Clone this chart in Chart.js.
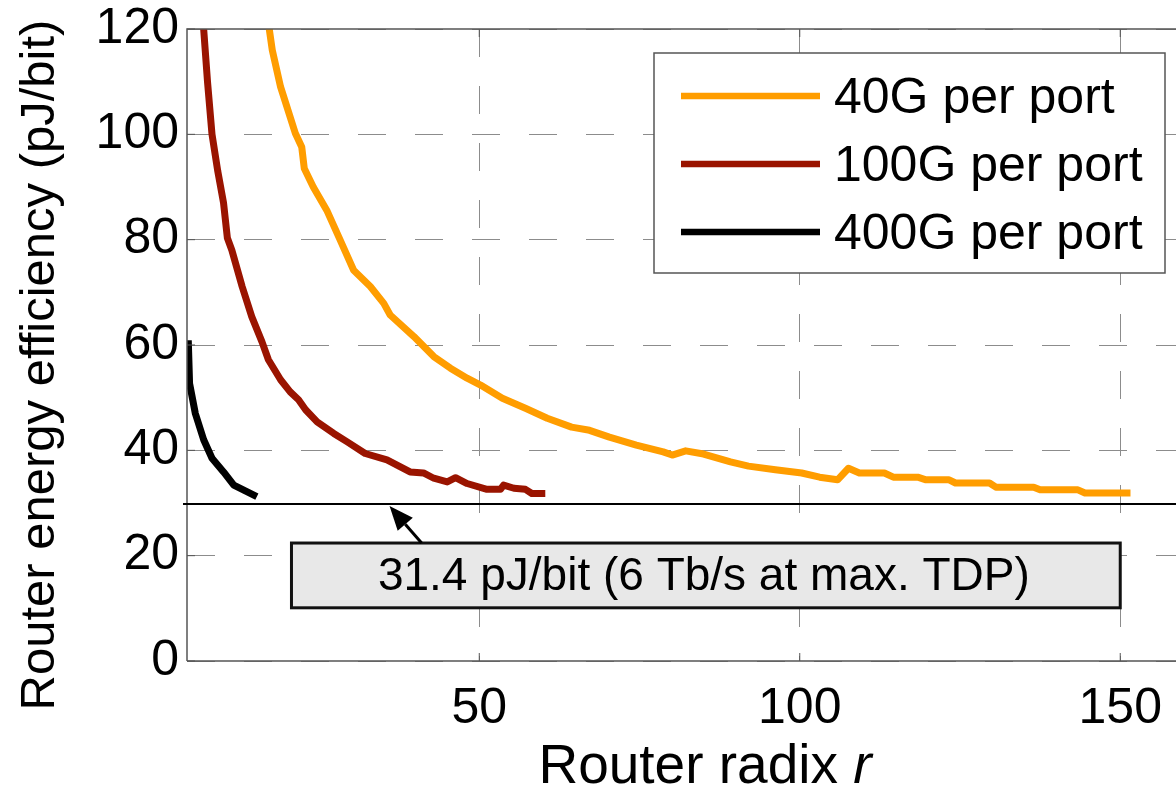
<!DOCTYPE html>
<html>
<head>
<meta charset="utf-8">
<script src="https://cdn.jsdelivr.net/npm/chart.js@4.4.1/dist/chart.umd.min.js"></script>
<style>
  html, body { margin: 0; padding: 0; background: #fff; }
  #wrap { width: 1176px; height: 790px; position: relative; }
</style>
</head>
<body>
<div id="wrap"><canvas id="chart" width="1176" height="790"></canvas></div>
<script>
// series: router radix r -> pJ/bit
const seriesLabels = ['40G per port', '100G per port', '400G per port'];

const r40 = [17.0, 17.7, 19.0, 21.3, 22.3, 22.7, 24.1, 26.2, 28.2, 30.4, 33.0, 35.1, 36.1, 39.8, 42.9, 45.5, 48.1, 50.2, 53.6, 57.2,
  60.6, 64.4, 67.2, 70.3, 74.5, 78.7, 80.1, 82.2, 85.0, 89.2, 92.0, 96.2, 100.3, 103.1, 105.9, 107.6, 109.3, 113.2, 114.6, 118.4,
  119.7, 123.3, 124.3, 129.6, 130.6, 136.5, 137.5, 143.4, 144.5, 151.6];
const e40 = [122, 116, 109, 100.2, 97.6, 93.5, 90, 85.6, 80.2, 74.2, 71.1, 67.9, 65.7, 61.6, 57.8, 55.6, 53.7, 52.4, 49.9, 48.0,
  46.1, 44.4, 43.8, 42.5, 41.0, 39.7, 39.1, 39.9, 39.3, 37.8, 37.0, 36.3, 35.7, 34.9, 34.4, 36.6, 35.7, 35.7, 34.9, 34.9,
  34.4, 34.4, 33.8, 33.8, 33.0, 33.0, 32.5, 32.5, 31.9, 31.9];

const r100 = [6.8, 7.0, 7.6, 8.3, 9.2, 10.1, 10.7, 11.4, 13.0, 14.5, 16.1, 17.1, 19.0, 20.5, 21.8, 22.9, 24.7, 27.3, 29.4, 32.2,
  35.6, 39.2, 41.3, 42.9, 45.0, 46.3, 48.1, 51.2, 53.3, 53.8, 55.4, 57.2, 58.2, 60.3];
const e100 = [123, 120, 110, 100, 93, 87, 80.3, 78, 71.1, 65.4, 60.6, 57.2, 53.4, 51.1, 49.6, 47.7, 45.4, 43.2, 41.6, 39.4,
  38.2, 35.9, 35.7, 34.7, 34.0, 34.8, 33.7, 32.6, 32.6, 33.4, 32.8, 32.6, 31.8, 31.8];

const r400 = [4.6, 4.8, 5.7, 7.0, 8.3, 10.1, 11.7, 15.3];
const e400 = [60.9, 52.7, 47.0, 42.0, 38.5, 35.9, 33.4, 31.2];

const xTicks = [50, 100, 150];
const yTicks = [0, 20, 40, 60, 80, 100, 120];

const refValue = 29.8;
const refLabel = '31.4 pJ/bit (6 Tb/s at max. TDP)';
const xTitle = 'Router radix ';
const xTitleVar = 'r';
const yTitle = 'Router energy efficiency (pJ/bit)';

const colors = ['#ff9d00', '#9a1400', '#000000'];
const FONT = '"Liberation Sans", Arial, Helvetica, sans-serif';

const pts = (xs, ys) => xs.map((x, i) => ({ x: x, y: ys[i] }));

// extra drawing: frame, inner ticks, reference line, callout, legend, axis titles
const extras = {
  id: 'extras',
  afterDatasetsDraw(chart) {
    const ctx = chart.ctx;
    const a = chart.chartArea;
    const xs = chart.scales.x, ys = chart.scales.y;
    ctx.save();

    // frame
    ctx.strokeStyle = '#555';
    ctx.lineWidth = 1.5;
    ctx.beginPath();
    ctx.moveTo(a.left, a.bottom); ctx.lineTo(a.left, a.top); ctx.lineTo(a.right + 2, a.top);
    ctx.moveTo(a.left, a.bottom); ctx.lineTo(a.right + 2, a.bottom);
    ctx.stroke();

    // inner tick marks
    ctx.lineWidth = 1;
    ctx.beginPath();
    xTicks.forEach(v => {
      const px = xs.getPixelForValue(v);
      ctx.moveTo(px, a.bottom); ctx.lineTo(px, a.bottom - 8);
      ctx.moveTo(px, a.top); ctx.lineTo(px, a.top + 8);
    });
    yTicks.forEach(v => {
      const py = ys.getPixelForValue(v);
      ctx.moveTo(a.left, py); ctx.lineTo(a.left + 8, py);
    });
    ctx.stroke();

    // reference line
    const ry = ys.getPixelForValue(refValue);
    ctx.strokeStyle = '#000';
    ctx.lineWidth = 2;
    ctx.beginPath();
    ctx.moveTo(a.left - 4, ry); ctx.lineTo(a.right + 2, ry);
    ctx.stroke();

    // callout box
    const bx1 = xs.getPixelForValue(20.7), bx2 = xs.getPixelForValue(150);
    const by1 = ys.getPixelForValue(22.4), by2 = ys.getPixelForValue(10.1);
    ctx.fillStyle = '#e8e8e8';
    ctx.fillRect(bx1, by1, bx2 - bx1, by2 - by1);
    ctx.strokeStyle = '#111';
    ctx.lineWidth = 3;
    ctx.strokeRect(bx1, by1, bx2 - bx1, by2 - by1);
    ctx.fillStyle = '#000';
    ctx.font = '46px ' + FONT;
    ctx.textAlign = 'center';
    ctx.textBaseline = 'middle';
    ctx.fillText(refLabel, (bx1 + bx2) / 2 - 2, (by1 + by2) / 2 + 2);

    // arrow from box to line
    const tx = xs.getPixelForValue(41.0), ty = by1;
    const hx = xs.getPixelForValue(36.0), hy = ry + 2;
    const ang = Math.atan2(hy - ty, hx - tx);
    const hl = 24, hw = 10;
    const bxh = hx - hl * Math.cos(ang), byh = hy - hl * Math.sin(ang);
    ctx.strokeStyle = '#000';
    ctx.lineWidth = 3;
    ctx.beginPath(); ctx.moveTo(tx, ty); ctx.lineTo(bxh, byh); ctx.stroke();
    ctx.beginPath();
    ctx.moveTo(hx, hy);
    ctx.lineTo(bxh + hw * Math.sin(ang), byh - hw * Math.cos(ang));
    ctx.lineTo(bxh - hw * Math.sin(ang), byh + hw * Math.cos(ang));
    ctx.closePath();
    ctx.fill();

    // legend
    const lx = 654, ly = 53, lw = 511, lh = 220;
    ctx.fillStyle = '#fff';
    ctx.fillRect(lx, ly, lw, lh);
    ctx.strokeStyle = '#555';
    ctx.lineWidth = 1.5;
    ctx.strokeRect(lx, ly, lw, lh);
    ctx.font = '50px ' + FONT;
    ctx.textAlign = 'left';
    ctx.textBaseline = 'middle';
    chart.data.datasets.forEach((ds, i) => {
      const yy = 96 + i * 68;
      ctx.strokeStyle = ds.borderColor;
      ctx.lineWidth = 6.5;
      ctx.beginPath(); ctx.moveTo(681, yy); ctx.lineTo(820, yy); ctx.stroke();
      ctx.fillStyle = '#000';
      ctx.fillText(ds.label, 834, yy + 3);
    });

    // x axis title with italic r
    ctx.fillStyle = '#000';
    ctx.textBaseline = 'middle';
    ctx.textAlign = 'left';
    ctx.font = '55px ' + FONT;
    const w1 = ctx.measureText(xTitle).width;
    ctx.font = 'italic 55px ' + FONT;
    const w2 = ctx.measureText(xTitleVar).width;
    const sx = 705 - (w1 + w2) / 2;
    ctx.font = '55px ' + FONT;
    ctx.fillText(xTitle, sx, 768);
    ctx.font = 'italic 55px ' + FONT;
    ctx.fillText(xTitleVar, sx + w1, 768);

    // y axis title
    ctx.save();
    ctx.translate(40, 365);
    ctx.rotate(-Math.PI / 2);
    ctx.font = '49px ' + FONT;
    ctx.textAlign = 'center';
    ctx.fillText(yTitle, 0, 0);
    ctx.restore();

    ctx.restore();
  }
};

new Chart(document.getElementById('chart'), {
  type: 'line',
  data: {
    datasets: [
      { label: seriesLabels[0], data: pts(r40, e40), borderColor: colors[0] },
      { label: seriesLabels[1], data: pts(r100, e100), borderColor: colors[1] },
      { label: seriesLabels[2], data: pts(r400, e400), borderColor: colors[2] }
    ]
  },
  options: {
    responsive: false,
    animation: false,
    layout: { padding: { top: 29, left: 0, right: 0, bottom: 0 } },
    elements: {
      line: { borderWidth: 7, tension: 0, borderJoinStyle: 'round', borderCapStyle: 'butt', fill: false },
      point: { radius: 0 }
    },
    plugins: {
      legend: { display: false },
      tooltip: { enabled: false }
    },
    scales: {
      x: {
        type: 'linear',
        min: 4.4,
        max: 158.7,
        afterFit: s => { s.height = 129; s.paddingLeft = 0; s.paddingRight = 0; },
        afterBuildTicks: s => { s.ticks = xTicks.map(v => ({ value: v })); },
        ticks: { color: '#000', font: { family: FONT, size: 50 }, padding: 18, maxRotation: 0 },
        grid: { color: '#8c8c8c', lineWidth: 1, drawTicks: false },
        border: { display: false, dash: [28, 29] }
      },
      y: {
        type: 'linear',
        min: 0,
        max: 120,
        afterFit: s => { s.width = 187; s.paddingTop = 0; s.paddingBottom = 0; },
        afterBuildTicks: s => { s.ticks = yTicks.map(v => ({ value: v })); },
        ticks: { color: '#000', font: { family: FONT, size: 50 }, padding: 8 },
        grid: { color: '#8c8c8c', lineWidth: 1, drawTicks: false },
        border: { display: false, dash: [28, 29] }
      }
    }
  },
  plugins: [extras]
});
</script>
</body>
</html>
